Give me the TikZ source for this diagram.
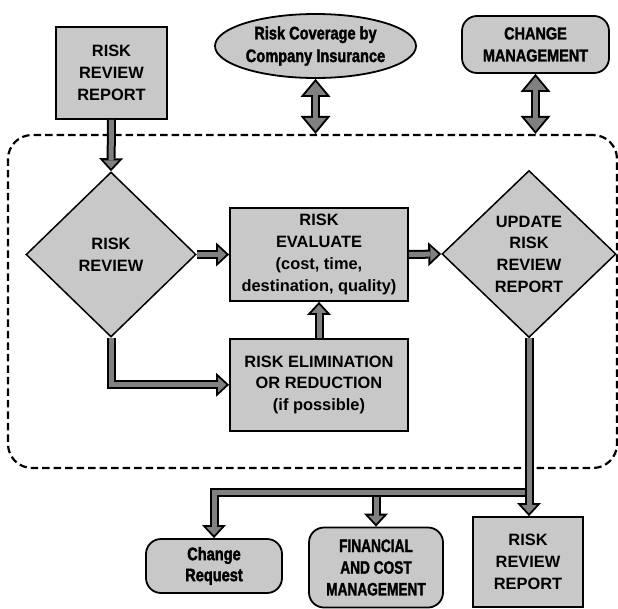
\documentclass[tikz,border=0pt]{standalone}
\usepackage{fontspec}
\setmainfont{Liberation Sans}
\newfontfamily\narrowfont[FakeStretch=0.84,FakeBold=1.6]{Liberation Sans Bold}
\newfontfamily\squeezefont[FakeStretch=0.76,FakeBold=1.6]{Liberation Sans Bold}
\newfontfamily\condfont[FakeStretch=0.81,FakeBold=2]{Liberation Sans Bold}
\usetikzlibrary{arrows.meta,positioning,shapes.geometric,calc}
\definecolor{boxgray}{HTML}{C8C8C8}
\definecolor{arrgray}{HTML}{808080}
\tikzset{
  box/.style={
    draw=black, line width=1.8pt, fill=boxgray,
    inner sep=0pt, align=center,
    font=\fontsize{16.4}{21.7}\selectfont\bfseries
  },
  roundbox/.style={box, rounded corners=15pt},
  decision/.style={box, diamond, line width=1.5pt},
  oval/.style={box, ellipse},
  frame/.style={draw=black, line width=2.2pt, dash pattern=on 7.5pt off 4pt, rounded corners=24pt},
  fatarr/.style={
    line width=9pt, draw=black, -{Triangle[length=13pt, width=24pt, line width=0pt]},
    postaction={draw=arrgray, line width=5pt, shorten >=2.9pt,
      -{Triangle[length=8pt, width=15pt, line width=0pt]}}
  },
  dblarr/.style={
    line width=9pt, draw=black,
    {Triangle[length=18pt, width=30pt, line width=0pt]}-{Triangle[length=18pt, width=30pt, line width=0pt]},
    postaction={draw=arrgray, line width=5pt, shorten >=3.1pt, shorten <=3.1pt,
      {Triangle[length=12.9pt, width=21.5pt, line width=0pt]}-{Triangle[length=12.9pt, width=21.5pt, line width=0pt]}}
  }
}

\begin{document}
\begin{tikzpicture}[x=1pt, y=-1pt, node distance=36pt]
  \useasboundingbox (0,0) rectangle (618,608);
  % dashed process frame
  \node[frame, minimum width=609pt, minimum height=333pt] (scope) at (312.5,301.5) {};
  % top row
  \node[box, minimum width=111pt, minimum height=92pt] (report) at (111.5,73) {RISK\\REVIEW\\REPORT};
  \node[oval, minimum width=201pt, minimum height=64pt, font=\condfont\fontsize{18}{22.7}\selectfont] (insur) at (315.5,46)
    {Risk Coverage by\\Company Insurance};
  \node[roundbox, minimum width=147pt, minimum height=57pt, font=\narrowfont\fontsize{17.2}{22}\selectfont] (change) at (535.5,44.5)
    {CHANGE\\MANAGEMENT};
  % inside the frame
  \node[decision, minimum width=170pt, minimum height=165pt] (review) at (111,254.5) {RISK\\REVIEW};
  \node[box, minimum width=178pt, minimum height=93pt] (eval) at (319,254.5)
    {RISK\\EVALUATE\\(cost, time,\\destination, quality)};
  \node[box, minimum width=178pt, minimum height=92pt, below=of eval] (elim)
    {RISK ELIMINATION\\OR REDUCTION\\(if possible)};
  \node[decision, minimum width=174pt, minimum height=167pt] (update) at (529,254) {UPDATE\\RISK\\REVIEW\\REPORT};
  % bottom row
  \node[box, minimum width=110pt, minimum height=90pt] (final) at (528,562) {RISK\\REVIEW\\REPORT};
  \node[roundbox, minimum width=136pt, minimum height=54pt, font=\condfont\fontsize{18}{21}\selectfont] (request) at (214,566)
    {Change\\Request};
  \node[roundbox, minimum width=134pt, minimum height=80pt, font=\squeezefont\fontsize{18}{21.7}\selectfont] (finance) at (376,567.5)
    {FINANCIAL\\AND COST\\MANAGEMENT};
  \coordinate (split) at (529,492);

  % connectors
  \draw[dblarr] (insur.south) -- (insur.south |- scope.north);
  \draw[dblarr] (change.south) -- (change.south |- scope.north);
  \draw[fatarr] (report.south) -- (review.north);
  \draw[fatarr] (review.east) -- (eval.west);
  \draw[fatarr] (eval.east) -- (update.west);
  \draw[fatarr] (elim.north) -- (eval.south);
  \draw[fatarr] (review.south) |- (elim.west);
  \draw[fatarr] (finance.north |- split) -- (finance.north);
  \draw[fatarr] (split) -| (request.north);
  \draw[fatarr] (update.south) -- (update.south |- final.north);
\end{tikzpicture}
\end{document}
